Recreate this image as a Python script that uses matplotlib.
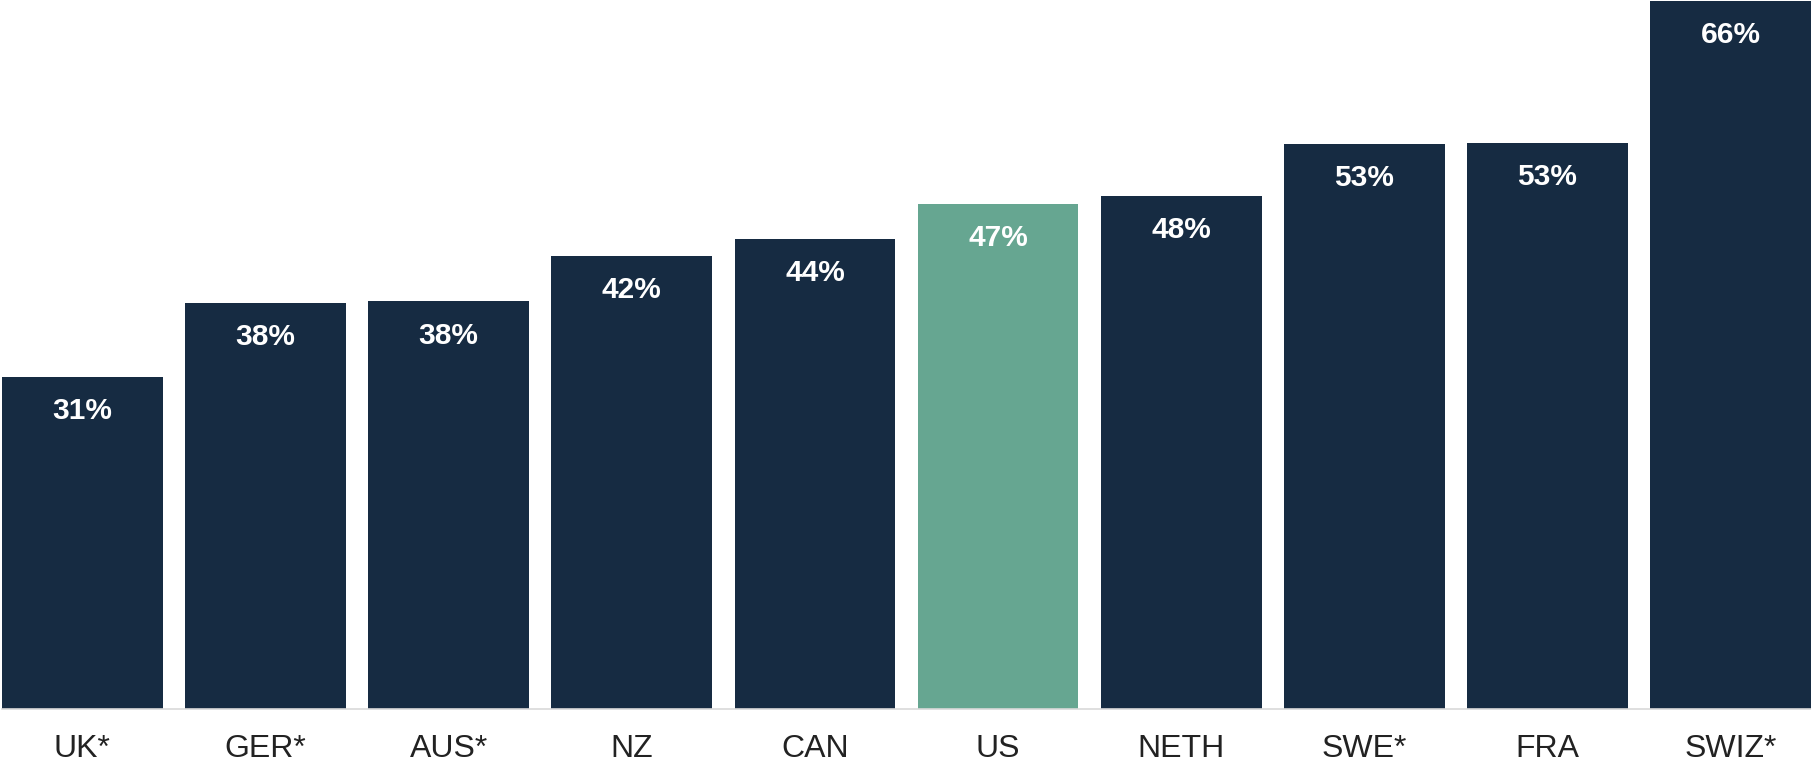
import matplotlib
matplotlib.use('Agg')
import matplotlib.pyplot as plt

countries = ['UK*', 'GER*', 'AUS*', 'NZ', 'CAN', 'US', 'NETH', 'SWE*', 'FRA', 'SWIZ*']
values = [31.0, 37.9, 38.0, 42.2, 43.8, 47.1, 47.8, 52.7, 52.8, 66.0]
labels = ['31%', '38%', '38%', '42%', '44%', '47%', '48%', '53%', '53%', '66%']
highlight = 'US'

NAVY = '#162b42'
GREEN = '#66a691'

plt.rcParams['font.family'] = ['Liberation Sans', 'DejaVu Sans']

W, H = 1811, 765
fig = plt.figure(figsize=(W / 100, H / 100), dpi=100)
ax = fig.add_axes([2 / W, 55.7 / H, 1809 / W, 708.3 / H])

x = list(range(len(countries)))
colors = [GREEN if c == highlight else NAVY for c in countries]
bars = ax.bar(x, values, width=0.878, color=colors)

for b, lab in zip(bars, labels):
    ax.annotate(lab, (b.get_x() + b.get_width() / 2, b.get_height()),
                xytext=(0, -24.5), textcoords='offset points',
                ha='center', va='center', color='white',
                fontsize=21.5, fontweight='bold')

ax.set_xlim(-0.439, len(countries) - 1 + 0.439)
ax.set_ylim(0, 66)
ax.set_xticks(x)
ax.set_xticklabels(countries, fontsize=23, color='#222222')
ax.tick_params(axis='x', length=0, pad=18)
ax.set_yticks([])
for s in ['top', 'right', 'left']:
    ax.spines[s].set_visible(False)
ax.spines['bottom'].set_color('#d9d9d9')
ax.spines['bottom'].set_linewidth(1.2)

fig.savefig('out.png', dpi=100)
